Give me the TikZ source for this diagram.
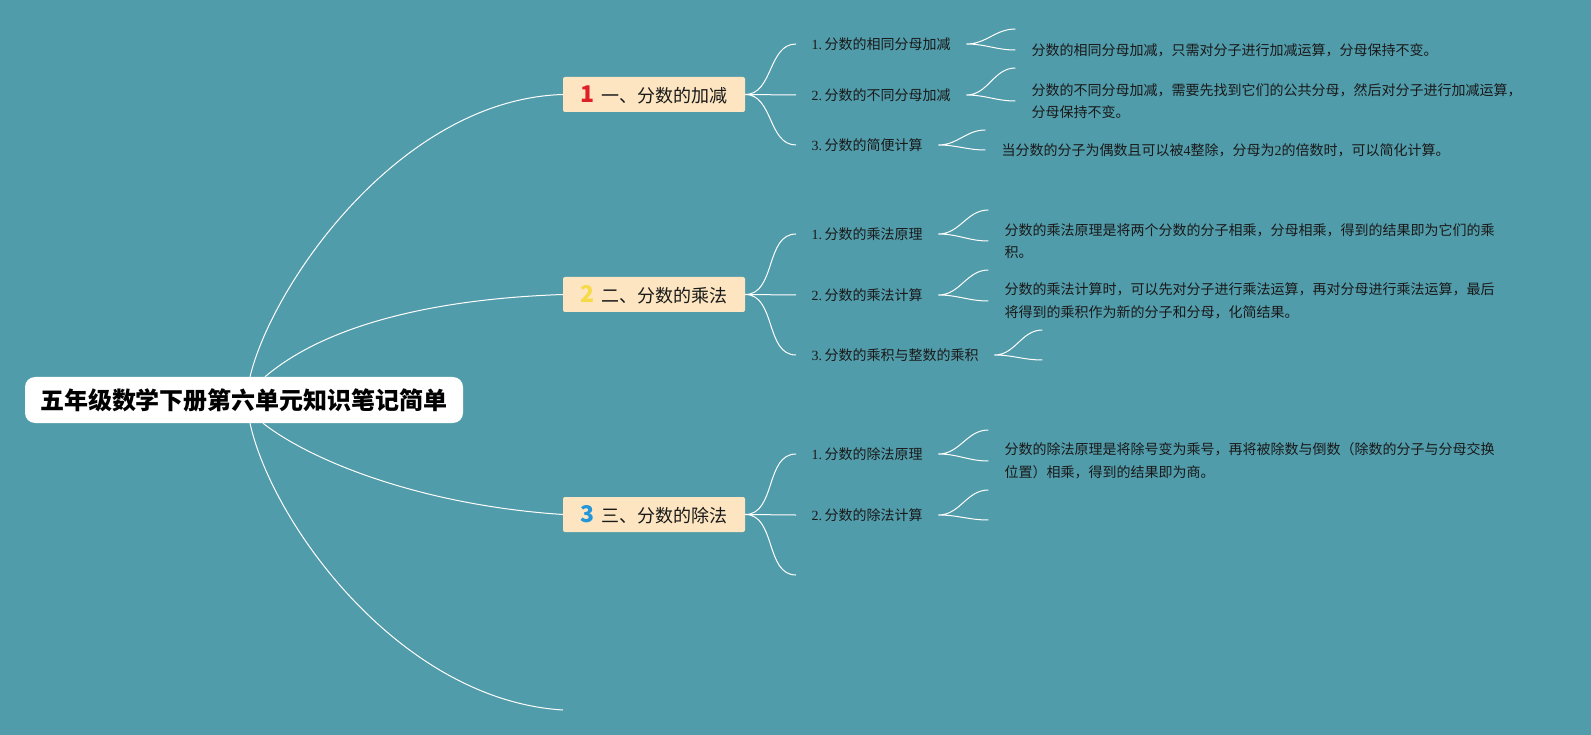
\documentclass[tikz,border=0pt]{standalone}
\usepackage{fontspec}
\setmainfont{Liberation Serif}
\newfontfamily\cjk{Noto Sans CJK SC}
\usetikzlibrary{positioning, calc}
\definecolor{mapbg}{RGB}{81, 156, 170}
\definecolor{topicfill}{RGB}{252, 229, 192}
\definecolor{numred}{RGB}{222, 32, 40}
\definecolor{numyellow}{RGB}{246, 218, 72}
\definecolor{numblue}{RGB}{36, 150, 218}
\definecolor{ink}{RGB}{25, 25, 25}
\tikzset{
  rootbox/.style={fill=white, rounded corners=10pt, minimum width=438pt, minimum height=46pt, inner sep=0pt, text=black, font=\cjk\bfseries\fontsize{24}{28}\selectfont},
  topicbox/.style={fill=topicfill, rounded corners=2pt, minimum width=182pt, minimum height=35pt, inner sep=0pt, text=ink, font=\cjk\fontsize{18}{22}\selectfont},
  subtopic/.style={anchor=west, inner xsep=15.5pt, inner ysep=2pt, text=ink, font=\cjk\fontsize{14}{17}\selectfont},
  note/.style={anchor=west, inner xsep=16pt, inner ysep=2pt, align=left, text=ink, font=\cjk\fontsize{14}{22.5}\selectfont},
  branch/.style={draw=white, line width=1pt},
  twig/.style={draw=white, line width=1pt, out=0, in=180}
}

\begin{document}
\begin{tikzpicture}[x=1pt, y=-1pt]
  \fill[mapbg] (0,0) rectangle (1591,735);
  \useasboundingbox (0,0) rectangle (1591,735);

  % central topic
  \node[rootbox] (root) at (244,400) {五年级数学下册第六单元知识笔记简单};

  % main topics
  \node[topicbox] (add) at (654,94.5) {{\color{numred}\bfseries\fontsize{23}{23}\selectfont 1}\hspace{7pt}一、分数的加减};
  \node[topicbox] (mul) at (654,294.5) {{\color{numyellow}\bfseries\fontsize{23}{23}\selectfont 2}\hspace{7pt}二、分数的乘法};
  \node[topicbox] (div) at (654,514.5) {{\color{numblue}\bfseries\fontsize{23}{23}\selectfont 3}\hspace{7pt}三、分数的除法};
  \coordinate (spare) at (563,710);

  \draw[branch] ($(root.north)+(6,0)$) .. controls +(22,-92) and +(-163,5) .. (add.west);
  \draw[branch] ($(root.north)+(21,0)$) .. controls +(55,-47) and +(-143,5) .. (mul.west);
  \draw[branch] ($(root.south)+(19,0)$) .. controls +(47,37) and +(-143,-9.5) .. (div.west);
  \draw[branch] ($(root.south)+(6,0)$) .. controls +(22,100) and +(-163,-10) .. (spare);

  % subtopics
  \node[subtopic] (add1) at (796,44) {{\rmfamily 1.}\hspace{2.5pt}分数的相同分母加减};
  \node[subtopic] (add2) at (796,95) {{\rmfamily 2.}\hspace{2.5pt}分数的不同分母加减};
  \node[subtopic] (add3) at (796,145) {{\rmfamily 3.}\hspace{2.5pt}分数的简便计算};
  \node[subtopic] (mul1) at (796,234) {{\rmfamily 1.}\hspace{2.5pt}分数的乘法原理};
  \node[subtopic] (mul2) at (796,295) {{\rmfamily 2.}\hspace{2.5pt}分数的乘法计算};
  \node[subtopic] (mul3) at (796,355) {{\rmfamily 3.}\hspace{2.5pt}分数的乘积与整数的乘积};
  \node[subtopic] (div1) at (796,454) {{\rmfamily 1.}\hspace{2.5pt}分数的除法原理};
  \node[subtopic] (div2) at (796,515) {{\rmfamily 2.}\hspace{2.5pt}分数的除法计算};
  \coordinate (div3) at (796,575);

  \draw[twig] (add.east) to (add1.west) (add.east) to (add2.west) (add.east) to (add3.west);
  \draw[twig] (mul.east) to (mul1.west) (mul.east) to (mul2.west) (mul.east) to (mul3.west);
  \draw[twig] (div.east) to (div1.west) (div.east) to (div2.west) (div.east) to (div3);

  % notes
  \node[note, right=49pt of add1.east, yshift=-6pt] (add1-note) {分数的相同分母加减，只需对分子进行加减运算，分母保持不变。};
  \node[note, right=49pt of add2.east, yshift=-6pt] (add2-note) {分数的不同分母加减，需要先找到它们的公共分母，然后对分子进行加减运算，\\分母保持不变。};
  \node[note, right=47pt of add3.east, yshift=-5pt] (add3-note) {当分数的分子为偶数且可以被{\rmfamily 4}整除，分母为{\rmfamily 2}的倍数时，可以简化计算。};
  \node[note, right=50pt of mul1.east, yshift=-7pt] (mul1-note) {分数的乘法原理是将两个分数的分子相乘，分母相乘，得到的结果即为它们的乘\\积。};
  \node[note, right=50pt of mul2.east, yshift=-6pt] (mul2-note) {分数的乘法计算时，可以先对分子进行乘法运算，再对分母进行乘法运算，最后\\将得到的乘积作为新的分子和分母，化简结果。};
  \coordinate (mul3-note) at ($(mul3.east)+(48,5)$);
  \node[note, right=50pt of div1.east, yshift=-7pt] (div1-note) {分数的除法原理是将除号变为乘号，再将被除数与倒数（除数的分子与分母交换\\位置）相乘，得到的结果即为商。};
  \coordinate (div2-note) at ($(div2.east)+(50,5)$);

  \coordinate (add1-up) at ($(add1.east)+(49,-15)$);
  \coordinate (add2-up) at ($(add2.east)+(49,-27)$);
  \coordinate (add3-up) at ($(add3.east)+(47,-15)$);
  \coordinate (mul1-up) at ($(mul1.east)+(50,-24)$);
  \coordinate (mul2-up) at ($(mul2.east)+(50,-25)$);
  \coordinate (mul3-up) at ($(mul3.east)+(48,-25)$);
  \coordinate (div1-up) at ($(div1.east)+(50,-24)$);
  \coordinate (div2-up) at ($(div2.east)+(50,-25)$);

  \draw[twig] (add1.east) to (add1-up) (add1.east) to (add1-note.west);
  \draw[twig] (add2.east) to (add2-up) (add2.east) to (add2-note.west);
  \draw[twig] (add3.east) to (add3-up) (add3.east) to (add3-note.west);
  \draw[twig] (mul1.east) to (mul1-up) (mul1.east) to (mul1-note.west);
  \draw[twig] (mul2.east) to (mul2-up) (mul2.east) to (mul2-note.west);
  \draw[twig] (mul3.east) to (mul3-up) (mul3.east) to (mul3-note);
  \draw[twig] (div1.east) to (div1-up) (div1.east) to (div1-note.west);
  \draw[twig] (div2.east) to (div2-up) (div2.east) to (div2-note);
\end{tikzpicture}
\end{document}
